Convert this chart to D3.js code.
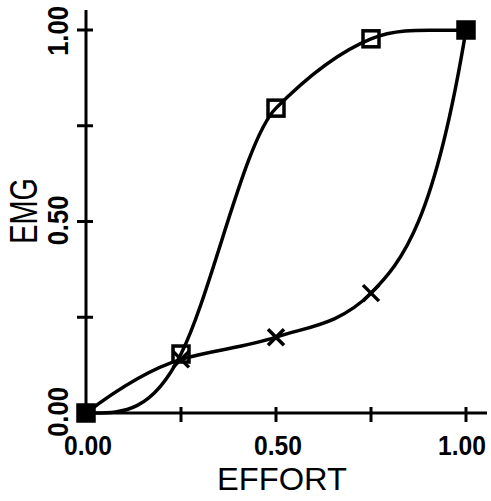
<!DOCTYPE html>
<html>
<head>
<meta charset="utf-8">
<script src="https://cdn.jsdelivr.net/npm/d3@7"></script>
<style>
  html, body { margin: 0; padding: 0; background: #fff; }
  svg { display: block; }
  text { font-family: "Liberation Sans", Arial, sans-serif; fill: #000; }
</style>
</head>
<body>
<svg id="chart" width="491" height="501"></svg>
<script>
// Effort levels (fraction of maximum) and normalised EMG for two conditions
const effort = [0, 0.25, 0.5, 0.75, 1.0];
const emgSquare = [0, 0.154, 0.796, 0.977, 1.0];
const emgCross = [0, 0.14, 0.198, 0.313, 1.0];
// slope of each hand-faired curve where it passes a measured point (dEMG / dEffort)
const slopeSquare = [0.02, 2.0, 1.0, 0.4, 0.05];
const slopeCross = [0.75, 0.3, 0.33, 1.0, 6.0];
const tickValues = [0, 0.25, 0.5, 0.75, 1.0];
const tickLabels = ["0.00", "0.50", "1.00"];
const labelValues = [0, 0.5, 1.0];

const svg = d3.select("#chart");
const x = d3.scaleLinear().domain([0, 1]).range([86, 466]);
const y = d3.scaleLinear().domain([0, 1]).range([413, 30]);

const ink = "#000";
const narrow = 0.88; // condensed lettering
const axisG = svg.append("g").attr("stroke", ink).attr("stroke-width", 3).attr("stroke-linecap", "butt");

// axis lines run a little past the last tick
axisG.append("line").attr("x1", x(0)).attr("x2", x(1) + 21).attr("y1", y(0)).attr("y2", y(0));
axisG.append("line").attr("x1", x(0)).attr("x2", x(0)).attr("y1", y(0)).attr("y2", y(1) - 20);

// tick marks cross the axis line
axisG.selectAll(".xt").data(tickValues).join("line")
  .attr("x1", d => x(d)).attr("x2", d => x(d))
  .attr("y1", y(0) - 6).attr("y2", y(0) + 9);
axisG.selectAll(".yt").data(tickValues).join("line")
  .attr("y1", d => y(d)).attr("y2", d => y(d))
  .attr("x1", x(0) - 9).attr("x2", x(0) + 7);

// tick labels
svg.selectAll(".xl").data(labelValues).join("text")
  .attr("transform", d => `translate(${x(d) + (d === 1 ? -4 : 2)},${y(0) + 42}) scale(${narrow},1)`)
  .attr("text-anchor", "middle")
  .attr("font-size", 28).attr("font-weight", "bold")
  .text((d, i) => tickLabels[i]);

svg.selectAll(".yl").data(labelValues).join("text")
  .attr("transform", d => `translate(${x(0) - 18},${y(d) + (d === 1 ? 1 : -1)}) rotate(-90) scale(${narrow},1)`)
  .attr("text-anchor", "middle")
  .attr("font-size", 29).attr("font-weight", "bold")
  .text((d, i) => tickLabels[i]);

// axis titles
svg.append("text")
  .attr("transform", "translate(217,490) scale(1.02,1)")
  .attr("font-size", 32)
  .text("EFFORT");
svg.append("text")
  .attr("transform", "translate(37,211) rotate(-90) scale(0.74,1)")
  .attr("text-anchor", "middle")
  .attr("font-size", 39)
  .text("EMG");

// faired curve: cubic Hermite segments between the measured points
function fairedPath(xs, ys, ms) {
  const p = d3.path();
  p.moveTo(x(xs[0]), y(ys[0]));
  for (let i = 1; i < xs.length; i++) {
    const h = (xs[i] - xs[i - 1]) / 3;
    p.bezierCurveTo(
      x(xs[i - 1] + h), y(ys[i - 1] + ms[i - 1] * h),
      x(xs[i] - h), y(ys[i] - ms[i] * h),
      x(xs[i]), y(ys[i]));
  }
  return p.toString();
}

svg.append("path").attr("d", fairedPath(effort, emgSquare, slopeSquare))
  .attr("fill", "none").attr("stroke", ink).attr("stroke-width", 3.5);
svg.append("path").attr("d", fairedPath(effort, emgCross, slopeCross))
  .attr("fill", "none").attr("stroke", ink).attr("stroke-width", 3.5);

// markers: open squares, crosses; where both series share a value the mark reads solid
const seriesSquare = effort.map((e, i) => [e, emgSquare[i]]);
const seriesCross = effort.map((e, i) => [e, emgCross[i]]);
const sq = 16;
svg.selectAll(".sq").data(seriesSquare).join("rect")
  .attr("x", d => x(d[0]) - sq / 2).attr("y", d => y(d[1]) - sq / 2)
  .attr("width", sq).attr("height", sq)
  .attr("fill", (d, i) => emgSquare[i] === emgCross[i] ? ink : "none")
  .attr("stroke", ink).attr("stroke-width", 3.5);

const cx = 8;
const crossG = svg.selectAll(".cr").data(seriesCross).join("g")
  .attr("transform", d => `translate(${x(d[0])},${y(d[1])})`)
  .attr("stroke", ink).attr("stroke-width", 3.5);
crossG.append("line").attr("x1", -cx).attr("y1", -cx).attr("x2", cx).attr("y2", cx);
crossG.append("line").attr("x1", -cx).attr("y1", cx).attr("x2", cx).attr("y2", -cx);
</script>
</body>
</html>
